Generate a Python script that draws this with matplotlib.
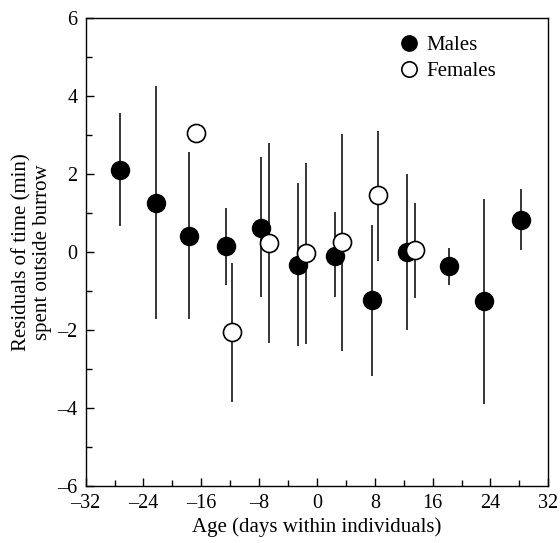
import matplotlib
matplotlib.use("Agg")
import matplotlib.pyplot as plt
from matplotlib.ticker import MultipleLocator

plt.rcParams['font.family'] = ['Liberation Serif', 'DejaVu Serif']

# Males
male_x = [-27.3, -22.3, -17.7, -12.6, -7.7, -2.6, 2.5, 7.6, 12.5, 18.2, 23.1, 28.2]
male_y = [2.11, 1.25, 0.40, 0.15, 0.61, -0.33, -0.10, -1.24, 0.00, -0.37, -1.26, 0.83]
male_lo = [0.66, -1.73, -1.73, -0.84, -1.16, -2.41, -1.16, -3.18, -1.99, -0.84, -3.89, 0.04]
male_hi = [3.55, 4.25, 2.57, 1.13, 2.43, 1.78, 1.02, 0.70, 2.00, 0.10, 1.35, 1.61]

# Females
female_x = [-16.7, -11.7, -6.7, -1.5, 3.5, 8.5, 13.6]
female_y = [3.06, -2.05, 0.23, -0.03, 0.25, 1.45, 0.06]
female_lo = [3.06, -3.85, -2.33, -2.35, -2.54, -0.24, -1.18]
female_hi = [3.06, -0.28, 2.80, 2.29, 3.02, 3.10, 1.25]

xticks = [-32, -24, -16, -8, 0, 8, 16, 24, 32]
yticks = [-6, -4, -2, 0, 2, 4, 6]

fig = plt.figure(figsize=(5.6, 5.43), dpi=100)
ax = fig.add_axes([0.153, 0.105, 0.826, 0.862])

m_err = [[y - lo for y, lo in zip(male_y, male_lo)], [hi - y for y, hi in zip(male_y, male_hi)]]
f_err = [[y - lo for y, lo in zip(female_y, female_lo)], [hi - y for y, hi in zip(female_y, female_hi)]]

ax.errorbar(male_x, male_y, yerr=m_err, fmt='none', ecolor='black', elinewidth=1.1, capsize=0, zorder=1)
ax.errorbar(female_x, female_y, yerr=f_err, fmt='none', ecolor='black', elinewidth=1.1, capsize=0, zorder=1)
ax.plot(male_x, male_y, 'o', color='black', markersize=13, markeredgewidth=1, label='Males', zorder=3)
ax.plot(female_x, female_y, 'o', markerfacecolor='white', markeredgecolor='black', markersize=13,
        markeredgewidth=1.2, label='Females', zorder=4)

ax.set_xlim(-32, 32)
ax.set_ylim(-6, 6)
ax.set_xticks(xticks)
ax.set_yticks(yticks)
ax.set_xticklabels([str(t).replace('-', '\u2013') for t in xticks])
ax.set_yticklabels([str(t).replace('-', '\u2013') for t in yticks])
ax.xaxis.set_minor_locator(MultipleLocator(4))
ax.yaxis.set_minor_locator(MultipleLocator(1))
ax.tick_params(which='both', direction='in', top=False, right=False, labelsize=14.5, width=1)
ax.tick_params(which='major', length=6)
ax.tick_params(which='minor', length=4)
ax.tick_params(axis='x', pad=6)
ax.tick_params(axis='y', pad=6)
for s in ax.spines.values():
    s.set_linewidth(1)

ax.set_xlabel('Age (days within individuals)', fontsize=15, labelpad=3)
ax.set_ylabel('Residuals of time (min)\nspent outside burrow', fontsize=15, labelpad=4, linespacing=1.05)

ax.legend(loc='upper left', bbox_to_anchor=(0.63, 0.998), frameon=False, fontsize=15,
          handletextpad=0.05, labelspacing=0.3, handlelength=1.5, borderpad=0.3, markerscale=0.85)

fig.savefig('out.png', dpi=100)
